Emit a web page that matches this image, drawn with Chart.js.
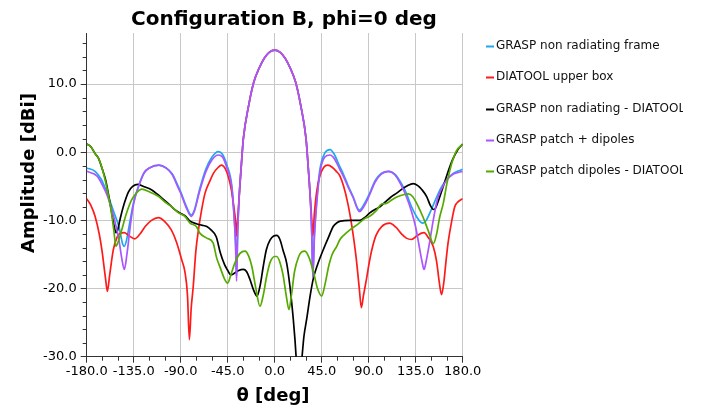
<!DOCTYPE html>
<html><head><meta charset="utf-8">
<script src="https://cdn.jsdelivr.net/npm/chart.js@4/dist/chart.umd.min.js"></script>
<style>html,body{margin:0;padding:0;background:#fff;}#wrap{width:701px;height:411px;position:relative;}canvas{display:block;}</style>
</head><body><div id="wrap"><canvas id="c" width="701" height="411"></canvas></div>
<script>
// ---- data (theta in deg, amplitude in dBi) ----
const xTicks = [-180,-135,-90,-45,0,45,90,135,180];
const yTicks = [-30,-20,-10,0,10];
const seriesLabels = ["GRASP non radiating frame","DIATOOL upper box","GRASP non radiating - DIATOOL","GRASP patch + dipoles","GRASP patch dipoles - DIATOOL"];

const thetaCyan = [-180,-172,-166,-160,-154,-149,-145.5,-144,-142,-139,
 -135,-130,-125,-120,-111,-104,-98,-93,-90,-85,
 -80,-77,-72,-66,-60,-54,-50,-46,-41,-39,
 -37.5,-36.5,-35.5,-34,-32,-30,-25,-20,-15,-10,
 -5,0,5,10,15,20,25,30,32,34,
 35.5,36.5,38,40,43,48,53,57,62,66,
 70,75,81,86,91,96,102,109,115,121,
 126,131,136,140,142,145,150,155,160,165,
 170,175,180];
const dbCyan = [-2.3,-2.8,-4.0,-6.2,-8.8,-11,-13.5,-13.8,-13,-10.5,
 -7.3,-4.8,-3.0,-2.3,-1.9,-2.3,-3.2,-4.8,-5.8,-7.8,
 -9.2,-8.5,-5.5,-2.5,-0.7,0.1,-0.3,-1.8,-5,-9,
 -13,-18.2,-12,-6.5,-2.0,2.0,6.8,10.3,12.3,13.8,
 14.7,15.0,14.7,13.8,12.3,10.3,6.8,2.0,-2.0,-6.5,
 -12,-18.2,-12,-7.5,-2.8,-0.1,0.4,-0.3,-2,-3.3,
 -4.8,-6.5,-8.5,-7.5,-6.0,-4.2,-3.1,-2.8,-3.2,-4.5,
 -6,-8.0,-9.5,-10.3,-10.4,-10,-8.4,-6.6,-5.0,-4.0,
 -3.2,-2.8,-2.5];

const thetaRed = [-180,-176,-172,-168,-165.5,-162,-160.2,-158,-154.5,-151,
 -148,-144,-140,-134,-129,-124,-118,-111.4,-105,-99,
 -94,-89,-86,-83.5,-81.7,-80,-78,-75.5,-73,-70,
 -66.7,-62,-58.7,-54,-51,-47,-44.4,-41.5,-39.6,-37.5,
 -36.4,-35.5,-34,-32,-30,-25,-20,-15,-10,-5,
 0,5,10,15,20,25,30,32,34,35.5,
 36.5,38,40,43,47,51,55,59,62.5,66,
 70,73,75.3,78,81,83,85,88,90.5,93,
 97,102.4,110,116,121.6,126,131,136,140,143,
 147,151.7,155,157.5,159.7,162,164,166,169,172.4,
 176,180];
const dbRed = [-6.8,-7.8,-9.4,-12,-14.3,-18.5,-20.4,-18,-14.3,-12.5,
 -11.9,-11.8,-12.2,-12.7,-12.0,-10.9,-10.0,-9.6,-10.2,-11.4,
 -13.2,-15.8,-17.5,-21,-27.5,-23,-19.7,-14.5,-11.4,-8.5,
 -6.0,-4.2,-3.1,-2.2,-1.9,-2.5,-3.6,-5.5,-7.5,-10,
 -12.3,-10,-6.5,-2.0,2.0,6.8,10.3,12.3,13.8,14.7,
 15.0,14.7,13.8,12.3,10.3,6.8,2.0,-2.0,-6.5,-10,
 -12.3,-9,-6,-3.6,-2.2,-1.9,-2.2,-2.8,-3.5,-5.0,
 -7.5,-10,-12.3,-15.5,-20,-22.8,-21,-18.5,-16.2,-14.3,
 -12.2,-10.9,-10.4,-11.0,-12.0,-12.6,-12.8,-12.3,-11.9,-11.8,
 -12.5,-13.8,-16,-19,-20.9,-19,-16,-13.3,-10.5,-8.0,
 -7.2,-6.8];

const thetaBlack = [-180,-176,-172,-169,-165,-162,-159,-156,-153.5,-152,
 -150.5,-148,-144,-140,-136,-131,-126,-118,-112,-106,
 -100,-95,-90,-86,-81,-75,-70,-65,-61,-56,
 -52,-48,-45.5,-42,-39,-35,-30,-27,-23.6,-20,
 -17,-14,-11,-8,-4.5,-1,2,5,8.2,11.5,
 14.6,17.8,19.4,21,23,25.5,28,30.6,34,37,
 41,46.5,52,56,60,63,72,81.7,86,91,
 96,100.8,106,111,116.8,122,127,132.7,137,141,
 145.5,149,152,154,157,161.4,165,170,175,180];
const dbBlack = [1.2,0.8,-0.2,-0.8,-2.5,-4.0,-6.3,-8.9,-11.0,-11.8,
 -11.5,-9.8,-7.5,-5.8,-5.0,-4.7,-5.0,-5.5,-6.2,-7.0,
 -7.8,-8.5,-9.0,-9.3,-10.1,-10.5,-10.7,-10.9,-11.4,-12.4,
 -14.8,-16.5,-17.2,-18.0,-17.8,-17.4,-17.2,-17.5,-18.7,-20.3,
 -21.1,-19.6,-16.8,-14.3,-12.9,-12.3,-12.2,-12.8,-14.5,-16.3,
 -19.7,-24.5,-27.5,-31,-33,-31,-27,-24.5,-21,-18.5,
 -16.5,-14.3,-12.3,-10.9,-10.3,-10.1,-10.0,-10.0,-9.6,-8.9,
 -8.4,-8.0,-7.3,-6.6,-6.0,-5.4,-4.9,-4.6,-4.9,-5.5,
 -6.5,-7.8,-8.4,-8.2,-7.0,-5.0,-3.3,-1.2,0.3,1.2];

const thetaPurple = [-180,-170,-165,-160,-155,-152,-149,-146.5,-144,-141.5,
 -138,-135,-130,-125,-120,-111,-104,-98,-93,-90,
 -85,-80,-77,-72,-66,-60,-54,-50,-46,-41,
 -39,-37.5,-36.5,-35.5,-34,-32,-30,-25,-20,-15,
 -10,-5,0,5,10,15,20,25,30,32,
 34,35.5,36.5,38,40,43,48,53,57,62,
 66,70,75,81,86,91,96,102,109,115,
 121,126,131,135,138,141,143,145,148,152,
 156,160,165,170,175,180];
const dbPurple = [-2.8,-3.5,-4.8,-6.5,-9,-10.8,-13,-15.5,-17.2,-15,
 -10.5,-7.5,-4.9,-3.0,-2.3,-1.9,-2.3,-3.3,-5.0,-6.0,
 -8.0,-9.4,-8.7,-5.8,-2.9,-1.1,-0.4,-0.7,-2.2,-5.3,
 -9.2,-13.5,-18.9,-12,-6.5,-2.0,2.0,6.8,10.3,12.3,
 13.8,14.7,15.0,14.7,13.8,12.3,10.3,6.8,2.0,-2.0,
 -6.5,-12,-18.4,-12.5,-8,-3.3,-0.7,-0.4,-0.9,-2.4,
 -3.6,-5.0,-6.6,-8.7,-7.8,-6.2,-4.4,-3.2,-2.8,-3.3,
 -4.8,-6.5,-8.7,-11,-13.5,-16,-17.2,-16,-13.5,-9.8,
 -6.8,-5.3,-4.0,-3.3,-3.0,-2.8];

const thetaGreen = [-180,-176,-172,-169,-165,-162,-159,-156,-154,-152,
 -150,-146.5,-142,-137,-132,-127.3,-120,-111,-105,-98.6,
 -92,-86,-81,-75,-71.5,-65,-59,-55.6,-52,-48,
 -45,-42,-38,-33,-28.4,-25,-22,-18,-14.1,-11,
 -7.7,-4.5,0,2,5.1,8,11,13.7,16,19,
 23,26,29,33,37,41,45,48,52,55,
 59.4,62.5,66,72,80,86.5,91,97,102.4,107,
 112,118,124,128,132,137.6,142,147,152,155,
 158,161.4,165,169.5,174,180];
const dbGreen = [1.2,0.8,-0.2,-0.8,-2.5,-4.3,-6.5,-9.2,-11.5,-13.8,
 -13.2,-11.4,-9,-7.0,-5.9,-5.4,-5.8,-6.5,-7.3,-8.0,
 -8.9,-9.4,-10.4,-10.9,-11.9,-12.6,-13.3,-15.5,-17,-18.6,
 -19.2,-18,-16.2,-14.8,-14.5,-15.2,-16.7,-20,-22.6,-21,
 -18.2,-16.2,-15.3,-15.3,-16.2,-18,-21,-23.1,-21,-17.5,
 -15.3,-14.6,-14.5,-15.5,-17.5,-20,-21.1,-19.5,-16.5,-15,
 -13.8,-12.8,-12.2,-11.4,-10.5,-9.7,-9.4,-8.6,-7.6,-7.5,
 -7.0,-6.5,-6.2,-6.1,-6.5,-8.0,-9.5,-11.5,-13.4,-12,
 -9.5,-7.5,-4.5,-1.6,0.2,1.2];

// ---- build ----
const pts = (t, v) => t.map((x, i) => ({x: x, y: v[i]}));
const colors = ['#1ea8f0','#ff1a1a','#000000','#aa55ff','#55aa00'];
const series = [pts(thetaCyan, dbCyan), pts(thetaRed, dbRed), pts(thetaBlack, dbBlack), pts(thetaPurple, dbPurple), pts(thetaGreen, dbGreen)];
const drawOrder = [5, 4, 3, 2, 1];

const FONT = '"DejaVu Sans", Verdana, sans-serif';

const decor = {
  id: 'decor',
  afterDraw(chart) {
    const ctx = chart.ctx, xs = chart.scales.x, ys = chart.scales.y, a = chart.chartArea;
    ctx.save();
    // minor ticks
    ctx.strokeStyle = '#333'; ctx.lineWidth = 1;
    ctx.beginPath();
    for (let v = -165; v < 180; v += 15) {
      if (v % 45 === 0) continue;
      const px = Math.round(xs.getPixelForValue(v)) + 0.5;
      ctx.moveTo(px, a.bottom); ctx.lineTo(px, a.bottom + 4);
    }
    for (let v = -28; v <= 16; v += 2) {
      if (v % 10 === 0) continue;
      const py = Math.round(ys.getPixelForValue(v)) + 0.5;
      ctx.moveTo(a.left - 4, py); ctx.lineTo(a.left, py);
    }
    ctx.stroke();
    // title
    ctx.fillStyle = '#000';
    ctx.font = 'bold 20px ' + FONT;
    ctx.textAlign = 'center'; ctx.textBaseline = 'alphabetic';
    ctx.fillText('Configuration B, phi=0 deg', 284, 25);
    // axis titles
    ctx.font = 'bold 18px ' + FONT;
    ctx.textBaseline = 'middle';
    ctx.fillText('θ [deg]', 273, 396);
    ctx.save();
    ctx.translate(29, 173); ctx.rotate(-Math.PI / 2);
    ctx.fillText('Amplitude [dBi]', 0, 0);
    ctx.restore();
    // legend (clipped at the right like the original)
    ctx.save();
    ctx.beginPath(); ctx.rect(470, 0, 213, 411); ctx.clip();
    ctx.font = '12px ' + FONT;
    ctx.textAlign = 'left'; ctx.textBaseline = 'middle';
    seriesLabels.forEach((lab, i) => {
      const y = 46 + i * 31.3;
      ctx.strokeStyle = colors[i]; ctx.lineWidth = 2;
      ctx.beginPath(); ctx.moveTo(486, Math.round(y) + 0.5); ctx.lineTo(494, Math.round(y) + 0.5); ctx.stroke();
      ctx.fillStyle = '#111';
      ctx.fillText(lab, 496, y);
    });
    ctx.restore();
    ctx.restore();
  }
};

new Chart(document.getElementById('c'), {
  type: 'line',
  data: {
    datasets: series.map((d, i) => ({
      label: seriesLabels[i], data: d,
      borderColor: colors[i], backgroundColor: colors[i],
      borderWidth: 1.7, pointRadius: 0, fill: false,
      cubicInterpolationMode: 'monotone', order: drawOrder[i]
    }))
  },
  options: {
    responsive: false, animation: false, devicePixelRatio: 1,
    layout: { padding: { left: 0, right: 238.3, top: 33, bottom: 0 } },
    plugins: { legend: { display: false }, title: { display: false }, tooltip: { enabled: false } },
    scales: {
      x: {
        type: 'linear', min: -180, max: 180,
        afterBuildTicks: s => { s.ticks = xTicks.map(v => ({ value: v })); },
        afterFit: s => { s.height = 54.3; },
        ticks: { callback: v => v.toFixed(1), color: '#000', font: { family: FONT, size: 13 }, maxRotation: 0, autoSkip: false, padding: 1 },
        grid: { color: '#c8c8c8', tickColor: '#333', tickLength: 6, lineWidth: 1 },
        border: { color: '#333', width: 1 }
      },
      y: {
        type: 'linear', min: -30, max: 17.5,
        afterBuildTicks: s => { s.ticks = yTicks.map(v => ({ value: v })); },
        afterFit: s => { s.width = 86.7; },
        ticks: { callback: v => v.toFixed(1), color: '#000', font: { family: FONT, size: 13 }, padding: 4 },
        grid: { color: '#c8c8c8', tickColor: '#333', tickLength: 6, lineWidth: 1 },
        border: { color: '#333', width: 1 }
      }
    }
  },
  plugins: [decor]
});
</script></body></html>
